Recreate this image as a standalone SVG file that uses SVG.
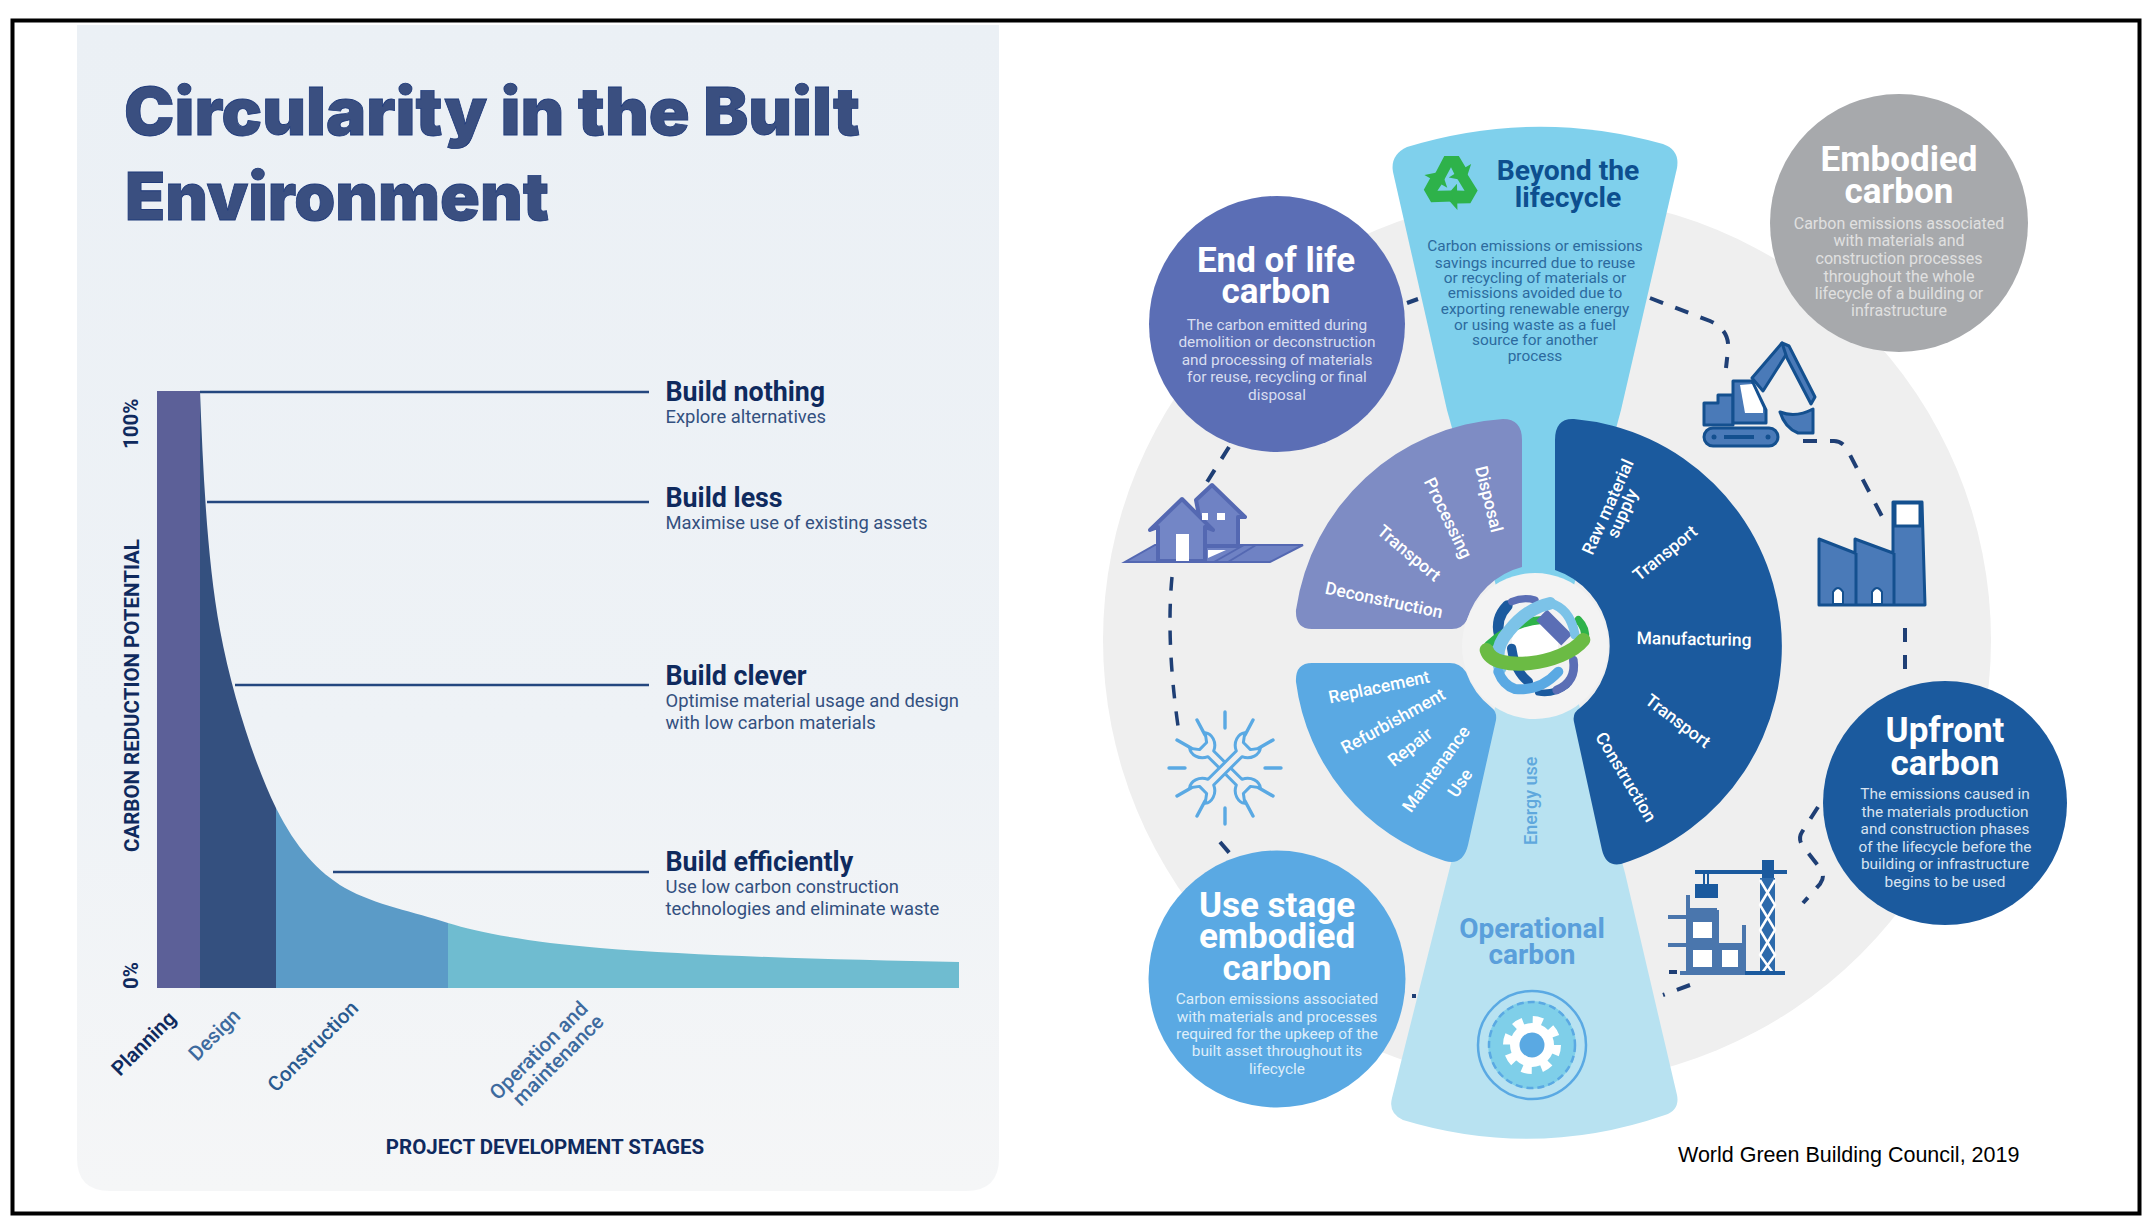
<svg xmlns="http://www.w3.org/2000/svg" width="2154" height="1228" viewBox="0 0 2154 1228">
<defs>
<linearGradient id="panelGrad" x1="0" y1="0" x2="0" y2="1"><stop offset="0" stop-color="#ebf0f5"/><stop offset="0.6" stop-color="#eef2f6"/><stop offset="1" stop-color="#f5f6f7"/></linearGradient>
<path id="recycleArm" d="M-15-7L-6-24L7-24L13-14L18-17L13-2L-2-5L3-8L0-14L-6-3Z"/>
<path id="wrench" d="M-20-4L20-4C24-13 34-15 39-11L31-5L31 5L39 11C34 15 24 13 20 4L-20 4C-24 13-34 15-39 11L-31 5L-31-5L-39-11C-34-15-24-13-20-4Z"/>
</defs>
<style>
text{font-family:Roboto,"Liberation Sans",sans-serif}
.title{font-family:Inter,"Liberation Sans",sans-serif;font-weight:900;font-size:66px;fill:#3a4f80;stroke:#1f3a7a;stroke-width:.8}
.head{font-weight:700;font-size:26.800px;fill:#0f2a5e}
.sub{font-size:18.400px;fill:#33507f}
.axis{font-weight:700;font-size:20.500px;fill:#0f2a5e}
.stage{font-weight:500;font-size:20.500px}
.ctitle{font-weight:700;font-size:35px;fill:#fff;text-anchor:middle}
.cbody{font-size:15.400px;text-anchor:middle}
.seg{font-weight:500;font-size:17.500px;fill:#fff;text-anchor:middle}
.dash{fill:none;stroke:#1f3f75;stroke-width:4;stroke-dasharray:14 13}
.lead{stroke:#24477f;stroke-width:2.400}
.ico{fill:#4a7ab8;stroke:#14508f;stroke-width:3;stroke-linejoin:round}
.hs{fill:#6f82c4;stroke:#5468b2;stroke-width:4;stroke-linejoin:round}
.ray{stroke:#5aa9e3;stroke-width:3.400;fill:none;stroke-linecap:round}
</style>
<rect width="2154" height="1228" fill="#fff"/>
<rect x="12.500" y="20.500" width="2127" height="1193" fill="none" stroke="#000" stroke-width="4"/>
<g id="panel">
<path d="M77 25H999V1158Q999 1191 966 1191H110Q77 1191 77 1158Z" fill="url(#panelGrad)"/>
<text class="title" x="124" y="135" textLength="736" lengthAdjust="spacingAndGlyphs">Circularity in the Built</text>
<text class="title" x="125" y="220" textLength="424" lengthAdjust="spacingAndGlyphs">Environment</text>
</g>
<g id="chart">
<rect x="157" y="391" width="43" height="597" fill="#5c6098"/>
<path d="M200 391C203 470 207 560 220 630C232 695 255 765 276 808V988H200Z" fill="#34507f"/>
<path d="M276 808C296 848 318 872 345 888C375 905 415 912 448 923V988H276Z" fill="#5b9bc7"/>
<path d="M448 923C480 933 530 942 600 948C700 956 840 960 959 962V988H448Z" fill="#6fbcd0"/>
<g class="lead"><line x1="200" y1="392" x2="649" y2="392"/><line x1="207" y1="502" x2="649" y2="502"/><line x1="235" y1="685" x2="649" y2="685"/><line x1="333" y1="872" x2="649" y2="872"/></g>
<text class="head" x="665.500" y="401">Build nothing</text><text class="sub" x="665.500" y="423">Explore alternatives</text>
<text class="head" x="665.500" y="507">Build less</text><text class="sub" x="665.500" y="529">Maximise use of existing assets</text>
<text class="head" x="665.500" y="685">Build clever</text><text class="sub" x="665.500" y="707">Optimise material usage and design</text><text class="sub" x="665.500" y="729">with low carbon materials</text>
<text class="head" x="665.500" y="871">Build efficiently</text><text class="sub" x="665.500" y="893">Use low carbon construction</text><text class="sub" x="665.500" y="915">technologies and eliminate waste</text>
<text class="axis" transform="translate(138 449) rotate(-90)">100%</text>
<text class="axis" transform="translate(139 852) rotate(-90)">CARBON REDUCTION POTENTIAL</text>
<text class="axis" transform="translate(138 989) rotate(-90)">0%</text>
<text class="stage" fill="#0f2a5e" transform="translate(120 1077) rotate(-45)" style="font-weight:600">Planning</text>
<text class="stage" fill="#3d6a9e" transform="translate(197 1062) rotate(-45)">Design</text>
<text class="stage" fill="#2a5a8f" transform="translate(276 1093) rotate(-45)">Construction</text>
<text class="stage" fill="#3d6a9e" transform="translate(498 1101) rotate(-45)">Operation and</text>
<text class="stage" fill="#3d6a9e" transform="translate(521 1107) rotate(-45)">maintenance</text>
<text class="axis" x="545" y="1154" text-anchor="middle">PROJECT DEVELOPMENT STAGES</text>
</g>
<circle id="wheel-disc" cx="1547" cy="640" r="444" fill="#efefef"/>
<g id="beyond-band">
<path d="M1393 172Q1390 155 1407 147Q1535 108 1663 144Q1680 150 1677 168L1621 410L1570 600H1500L1447 410Z" fill="#7fd0ec"/>
</g>
<g id="operational-band">
<path d="M1500 690H1575L1625 873L1677 1095Q1680 1110 1665 1115Q1535 1160 1403 1120Q1388 1113 1392 1098L1450 867Z" fill="#b8e2f1"/>
</g>
<g id="connectors">
<path class="dash" d="M1650 298L1710 321Q1730 330 1728 350L1726 368"/>
<path class="dash" d="M1803 441H1834Q1844 441 1850 455L1887 526"/>
<path class="dash" d="M1905 628V682" stroke-dasharray="13 38"/>
<path class="dash" d="M1818 807L1802 832Q1798 838 1802 845L1820 868Q1826 876 1820 884L1803 903"/>
<path class="dash" d="M1690 985L1663 995"/>
<path class="dash" d="M1669 972H1677"/>
<path class="dash" d="M1412 996H1416"/>
<path class="dash" d="M1220 842L1232 856" stroke-dasharray="6 10"/>
<path class="dash" d="M1172 577Q1166 640 1178 726" style="stroke-width:3.500"/>
<path class="dash" d="M1229 447L1207 482"/>
<path class="dash" d="M1407 303L1418 299"/>
</g>
<g id="node-end-of-life">
<circle cx="1277" cy="324" r="128" fill="#5b6eb5"/>
<text class="ctitle" x="1276" y="272">End of life</text><text class="ctitle" x="1276" y="303">carbon</text>
<g class="cbody" fill="#d9def0"><text x="1277" y="330">The carbon emitted during</text><text x="1277" y="347">demolition or deconstruction</text><text x="1277" y="365">and processing of materials</text><text x="1277" y="382">for reuse, recycling or final</text><text x="1277" y="400">disposal</text></g>
</g>
<g id="node-embodied">
<circle cx="1899" cy="223" r="129" fill="#a7a9ac"/>
<text class="ctitle" x="1899" y="171">Embodied</text><text class="ctitle" x="1899" y="203">carbon</text>
<g class="cbody" fill="#e0e0e0" style="font-size:16px"><text x="1899" y="229">Carbon emissions associated</text><text x="1899" y="246">with materials and</text><text x="1899" y="264">construction processes</text><text x="1899" y="282">throughout the whole</text><text x="1899" y="299">lifecycle of a building or</text><text x="1899" y="316">infrastructure</text></g>
</g>
<g id="node-upfront">
<circle cx="1945" cy="803" r="122" fill="#1b5a9e"/>
<text class="ctitle" x="1945" y="742">Upfront</text><text class="ctitle" x="1945" y="775">carbon</text>
<g class="cbody" fill="#d8e3f0"><text x="1945" y="799">The emissions caused in</text><text x="1945" y="817">the materials production</text><text x="1945" y="834">and construction phases</text><text x="1945" y="852">of the lifecycle before the</text><text x="1945" y="869">building or infrastructure</text><text x="1945" y="887">begins to be used</text></g>
</g>
<g id="node-use-stage">
<circle cx="1277" cy="979" r="128.500" fill="#5aa9e3"/>
<text class="ctitle" x="1277" y="917">Use stage</text><text class="ctitle" x="1277" y="948">embodied</text><text class="ctitle" x="1277" y="980">carbon</text>
<g class="cbody" fill="#deeefa"><text x="1277" y="1004">Carbon emissions associated</text><text x="1277" y="1022">with materials and processes</text><text x="1277" y="1039">required for the upkeep of the</text><text x="1277" y="1056">built asset throughout its</text><text x="1277" y="1074">lifecycle</text></g>
</g>
<g id="node-beyond">
<g transform="translate(1451 183) scale(1.120)" fill="#2eb24a"><use href="#recycleArm"/><use href="#recycleArm" transform="rotate(120)"/><use href="#recycleArm" transform="rotate(240)"/></g>
<g font-weight="700" font-size="28.300" fill="#0d4f8f" text-anchor="middle"><text x="1568" y="180">Beyond the</text><text x="1568" y="207">lifecycle</text></g>
<g class="cbody" fill="#2c6a9e"><text x="1535" y="251">Carbon emissions or emissions</text><text x="1535" y="268">savings incurred due to reuse</text><text x="1535" y="283">or  recycling of materials or</text><text x="1535" y="298">emissions avoided due to</text><text x="1535" y="314">exporting renewable energy</text><text x="1535" y="330">or using waste as a fuel</text><text x="1535" y="345">source for another</text><text x="1535" y="361">process</text></g>
</g>
<g id="node-operational">
<g font-weight="700" font-size="28" fill="#5a9fdb" text-anchor="middle"><text x="1532" y="938">Operational</text><text x="1532" y="964">carbon</text></g>
<text font-weight="500" font-size="18" fill="#5fa8dd" transform="translate(1537 845) rotate(-90)">Energy use</text>
<circle cx="1532" cy="1045" r="54" fill="none" stroke="#5aa9e3" stroke-width="2.500"/>
<circle cx="1532" cy="1045" r="44" fill="#7fcfe9"/>
<circle cx="1532" cy="1045" r="43" fill="none" stroke="#5aa9e3" stroke-width="2.500" stroke-dasharray="7 4"/>
<circle cx="1532" cy="1045" r="22" fill="#fff"/>
<circle cx="1532" cy="1045" r="24.500" fill="none" stroke="#fff" stroke-width="9" stroke-dasharray="9.620 9.620"/>
<circle cx="1532" cy="1045" r="12.500" fill="#5aa9e3"/>
</g>
<g id="node-sector-end">
<path d="M1522 440Q1522 419 1503 419A223 223 0 0 0 1296 610Q1295 629 1312 629H1452Q1462 629 1467 620A78 78 0 0 1 1522 567Z" fill="#7e8cc4"/>
<text class="seg" transform="translate(1489 499) rotate(76)" dy="6">Disposal</text>
<text class="seg" transform="translate(1448 518) rotate(64)" dy="6">Processing</text>
<text class="seg" transform="translate(1409 553) rotate(40)" dy="6">Transport</text>
<text class="seg" transform="translate(1384 600) rotate(12)" dy="6">Deconstruction</text>
</g>
<g id="node-sector-upfront">
<path d="M1555 440Q1555 418 1574 419A228 228 0 0 1 1621 864Q1606 867 1602 850L1574 722Q1572 713 1580 708A80 80 0 0 0 1555 570Z" fill="#1b5a9e"/>
<g transform="translate(1615 510) rotate(-66)"><text class="seg" y="-2">Raw material</text><text class="seg" y="14">supply</text></g>
<text class="seg" transform="translate(1665 553) rotate(-39)" dy="6">Transport</text>
<text class="seg" transform="translate(1694 639) rotate(1)" dy="6">Manufacturing</text>
<text class="seg" transform="translate(1678 721) rotate(37)" dy="6">Transport</text>
<text class="seg" transform="translate(1626 777) rotate(59)" dy="6">Construction</text>
</g>
<g id="node-sector-use">
<path d="M1312 663H1450Q1460 663 1466 672A78 78 0 0 0 1492 708Q1497 712 1496 720L1468 845Q1463 866 1445 861A217 217 0 0 1 1296 682Q1295 663 1312 663Z" fill="#5aa9e3"/>
<text class="seg" transform="translate(1379 687) rotate(-12)" dy="6">Replacement</text>
<text class="seg" transform="translate(1393 721) rotate(-29)" dy="6">Refurbishment</text>
<text class="seg" transform="translate(1410 747) rotate(-38)" dy="6">Repair</text>
<text class="seg" transform="translate(1436 769) rotate(-54)" dy="6">Maintenance</text>
<text class="seg" transform="translate(1460 783) rotate(-56)" dy="6">Use</text>
</g>
<g id="hub">
<circle cx="1535" cy="646" r="73" fill="#f3f3f3"/>
<g transform="translate(1470 585) scale(.3333)" fill="none" stroke-linecap="round">
<circle cx="195" cy="175" r="70" fill="#fff"/>
<g stroke="#1b5a9e"><path d="M112 62Q75 100 88 150" stroke-width="32"/><path d="M125 190Q135 260 175 290" stroke-width="28"/><path d="M205 322Q250 330 290 300" stroke-width="20"/></g>
<path d="M55 180Q130 110 215 105" stroke="#2eb24a" stroke-width="24"/><path d="M325 105Q350 130 345 165" stroke="#2eb24a" stroke-width="24"/>
<g stroke="#5b6eb5"><path d="M125 50Q160 35 195 45" stroke-width="22"/><path d="M215 90L290 165" stroke="#5b6eb5" stroke-width="46" stroke-linecap="butt"/><path d="M310 225Q320 290 260 315" stroke-width="26"/></g>
<g stroke="#7cc3e8"><path d="M90 250Q70 190 115 140Q170 70 240 55" stroke-width="38"/><path d="M240 55Q300 70 315 150" stroke-width="28"/></g>
<path d="M85 260Q100 300 135 312Q210 320 265 260" stroke="#5aa9e3" stroke-width="30"/>
<path d="M50 195C70 265 280 240 340 165" stroke="#6bbb44" stroke-width="42"/>
</g>
</g>
<g id="icon-house">
<path d="M1125 562H1270L1303 545H1155Z" fill="#6f82c4" stroke="#5468b2" stroke-width="2"/>
<path d="M1244 545L1214 562M1256 545L1228 562" stroke="#5468b2" stroke-width="2"/>
<path d="M1196 500L1212 485L1245 517L1238 517V546H1205Z" class="hs"/>
<path d="M1150 530L1182 499L1213 530L1205 527V561H1158V527Z" class="hs" style="fill:#7386c6"/>
<rect x="1176" y="534" width="13" height="27" fill="#fff"/>
<rect x="1202" y="513" width="6" height="7" fill="#fff"/><rect x="1217" y="513" width="8" height="7" fill="#fff"/>
<path d="M1208 550H1226L1208 558Z" fill="#fff"/>
</g>
<g id="icon-excavator">
<rect x="1704" y="428" width="74" height="18" rx="9" class="ico"/>
<g fill="#14508f"><circle cx="1714" cy="437" r="2.500"/><rect x="1724" y="435" width="30" height="4"/><circle cx="1768" cy="437" r="2.500"/></g>
<path d="M1704 403H1718V395H1733V425H1704Z" class="ico"/>
<path d="M1733 381H1752L1766 410V423H1733Z" class="ico"/>
<path d="M1740 385L1752 384L1763 408V413H1745Z" fill="#fff"/>
<path d="M1752 378L1782 343L1789 350L1763 391Z" class="ico"/>
<path d="M1782 343L1789 346L1815 397L1811 404L1787 358Z" class="ico"/>
<path d="M1780 412Q1796 418 1813 409V433H1798Q1785 428 1780 412Z" class="ico"/>
</g>
<g id="icon-factory">
<path d="M1819 539L1855 553V539L1893 553V502H1922L1925 605H1819Z" class="ico"/>
<rect x="1895" y="503" width="25" height="23" fill="#fff" stroke="#14508f" stroke-width="3"/>
<path d="M1856 553V604M1894 553V604" stroke="#14508f" stroke-width="3"/>
<path d="M1833 604V592Q1838 584 1843 592V604ZM1872 604V592Q1877 584 1882 592V604Z" fill="#fff" stroke="#14508f" stroke-width="2"/>
</g>
<g id="icon-crane">
<path d="M1688 908H1717V945H1744V973H1688Z" fill="#4a76ad"/>
<path d="M1688 895V973M1717 910V973M1744 925V973M1668 917H1717M1668 945H1744M1680 973H1785" stroke="#4a76ad" stroke-width="4" fill="none"/>
<rect x="1693" y="922" width="19" height="16" fill="#fff"/><rect x="1693" y="950" width="19" height="17" fill="#fff"/><rect x="1722" y="950" width="16" height="17" fill="#fff"/>
<path d="M1695 872H1787" stroke="#1b5a9e" stroke-width="4"/>
<rect x="1762" y="860" width="12" height="18" fill="#1b5a9e"/>
<rect x="1695" y="884" width="23" height="14" fill="#1b5a9e"/>
<path d="M1704 873V885M1708 873V885" stroke="#1b5a9e" stroke-width="2"/>
<path d="M1760 878H1775V973H1760Z" fill="#2d6aab"/>
<path d="M1760 880L1775 905L1760 930L1775 955L1762 973M1775 880L1760 905L1775 930L1760 955L1773 973" stroke="#fff" stroke-width="2.500" fill="none"/>
<path d="M1745 973H1785" stroke="#1b5a9e" stroke-width="4"/>
</g>
<g id="icon-maintenance" class="ray">
<path d="M1225 712V728M1225 808V824M1169 768H1185M1265 768H1281M1197 720L1205 735M1253 720L1245 735M1197 816L1205 801M1253 816L1245 801M1177 740L1191 748M1273 740L1259 748M1177 796L1191 788M1273 796L1259 788"/>
<g transform="translate(1225 768)" stroke-width="3" fill="#efefef" stroke-linejoin="round">
<use href="#wrench" transform="rotate(45)"/><use href="#wrench" transform="rotate(-45)"/>
</g>
</g>
<text id="source" x="1678" y="1162" font-size="21.500" fill="#000" style="font-family:'Liberation Sans',sans-serif">World Green Building Council, 2019</text>
</svg>
